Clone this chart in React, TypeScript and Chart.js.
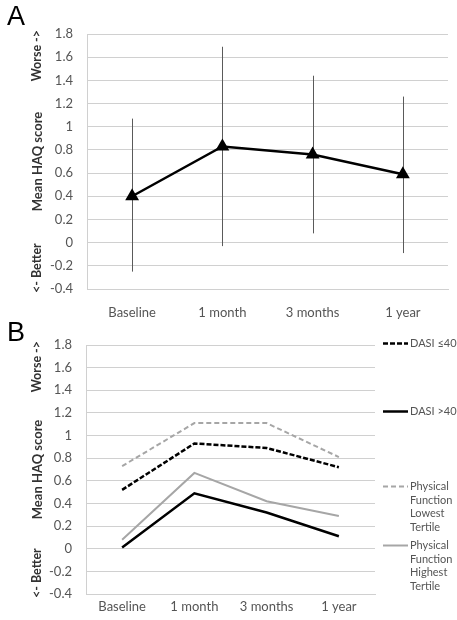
import React, { useEffect, useRef } from "react";
import { Chart, registerables } from "chart.js";

Chart.register(...registerables);

const categories = ["Baseline", "1 month", "3 months", "1 year"];

// Panel A
const meanHaq = [0.4, 0.83, 0.76, 0.59];
const errUpper = [1.07, 1.69, 1.44, 1.26];
const errLower = [-0.25, -0.03, 0.08, -0.09];

// Panel B
const dasiLow = [0.52, 0.93, 0.89, 0.72];
const dasiHigh = [0.01, 0.49, 0.32, 0.11];
const pfLowest = [0.73, 1.11, 1.11, 0.81];
const pfHighest = [0.08, 0.67, 0.42, 0.29];

const seriesLabelsB = [
  ["DASI \u226440"],
  ["DASI >40"],
  ["Physical", "Function", "Lowest", "Tertile"],
  ["Physical", "Function", "Highest", "Tertile"],
];

const yMin = -0.4;
const yMax = 1.8;
const yStep = 0.2;

const FONT = "Lato, 'Open Sans', 'DejaVu Sans', sans-serif";
const GRID = "#d0d0d0";
const TEXT = "#555555";
const BLACK = "#000000";
const GREY = "#a6a6a6";

const sideLabelsPlugin = {
  id: "sideLabels",
  afterDraw(chart: any) {
    const { ctx, chartArea } = chart;
    const x = 37;
    ctx.save();
    ctx.font = `bold 12.5px ${FONT}`;
    ctx.fillStyle = "#333333";
    ctx.textBaseline = "middle";
    ctx.save();
    ctx.translate(x, chartArea.top - 4);
    ctx.rotate(-Math.PI / 2);
    ctx.textAlign = "right";
    ctx.fillText("Worse ->", 0, 0);
    ctx.restore();
    ctx.save();
    ctx.translate(x, chartArea.bottom + 4);
    ctx.rotate(-Math.PI / 2);
    ctx.textAlign = "left";
    ctx.fillText("<- Better", 0, 0);
    ctx.restore();
    ctx.restore();
  },
};

const errorBarsPlugin = {
  id: "errorBars",
  beforeDatasetsDraw(chart: any, _args: any, opts: any) {
    if (!opts || !opts.upper) return;
    const { ctx } = chart;
    const xs = chart.scales.x;
    const ys = chart.scales.y;
    ctx.save();
    ctx.strokeStyle = "#5a5a5a";
    ctx.lineWidth = 1;
    opts.upper.forEach((u: number, i: number) => {
      const px = Math.round(xs.getPixelForValue(i)) + 0.5;
      ctx.beginPath();
      ctx.moveTo(px, ys.getPixelForValue(u));
      ctx.lineTo(px, ys.getPixelForValue(opts.lower[i]));
      ctx.stroke();
    });
    ctx.restore();
  },
};

const sideLegendPlugin = {
  id: "sideLegend",
  afterDraw(chart: any, _args: any, opts: any) {
    if (!opts || !opts.entries) return;
    const { ctx, chartArea } = chart;
    ctx.save();
    ctx.font = `11px ${FONT}`;
    ctx.fillStyle = TEXT;
    ctx.textBaseline = "middle";
    ctx.textAlign = "left";
    chart.data.datasets.forEach((ds: any, i: number) => {
      const y = Math.round(chartArea.top + opts.offsets[i]) + 0.5;
      const x0 = chartArea.right + 8;
      ctx.save();
      ctx.strokeStyle = ds.borderColor;
      ctx.lineWidth = ds.borderWidth;
      ctx.setLineDash(ds.borderDash || []);
      ctx.beginPath();
      ctx.moveTo(x0, y);
      ctx.lineTo(x0 + 25, y);
      ctx.stroke();
      ctx.restore();
      opts.entries[i].forEach((line: string, j: number) => {
        ctx.fillText(line, x0 + 27, y + j * 13.5);
      });
    });
    ctx.restore();
  },
};

function yScale(leftWidth: number) {
  return {
    min: yMin,
    max: yMax,
    ticks: {
      stepSize: yStep,
      padding: 14,
      color: TEXT,
      font: { family: FONT, size: 13 },
      callback: (v: any) => String(Number(Number(v).toFixed(1))),
    },
    grid: { color: GRID, lineWidth: 1, drawTicks: false },
    border: { display: true, color: GRID },
    title: {
      display: true,
      text: "Mean HAQ score",
      color: "#333333",
      font: { family: FONT, size: 13, weight: "bold" },
      padding: { top: 30, bottom: 0 },
    },
    afterFit: (s: any) => {
      s.width = leftWidth;
    },
  };
}

function xScale(height: number, pad: number) {
  return {
    offset: true,
    grid: { display: false, drawTicks: false },
    border: { display: true, color: GRID },
    ticks: {
      padding: pad,
      color: TEXT,
      font: { family: FONT, size: 13 },
      maxRotation: 0,
      autoSkip: false,
    },
    afterFit: (s: any) => {
      s.height = height;
    },
  };
}

export default function App() {
  const refA = useRef<HTMLCanvasElement | null>(null);
  const refB = useRef<HTMLCanvasElement | null>(null);

  useEffect(() => {
    const chartA = new Chart(refA.current as HTMLCanvasElement, {
      type: "line",
      data: {
        labels: categories,
        datasets: [
          {
            data: meanHaq,
            borderColor: BLACK,
            borderWidth: 2.5,
            pointStyle: "triangle",
            pointRadius: 5.5,
            pointBackgroundColor: BLACK,
            pointBorderColor: BLACK,
            tension: 0,
          },
        ],
      },
      options: {
        animation: false,
        responsive: false,
        maintainAspectRatio: false,
        devicePixelRatio: 1,
        layout: { padding: { top: 34, right: 9, left: 0, bottom: 0 } },
        plugins: {
          legend: { display: false },
          tooltip: { enabled: false },
          errorBars: { upper: errUpper, lower: errLower },
        } as any,
        scales: {
          x: xScale(36, 16) as any,
          y: yScale(87) as any,
        },
      },
      plugins: [errorBarsPlugin, sideLabelsPlugin],
    });

    const chartB = new Chart(refB.current as HTMLCanvasElement, {
      type: "line",
      data: {
        labels: categories,
        datasets: [
          {
            data: dasiLow,
            borderColor: BLACK,
            borderWidth: 2.5,
            borderDash: [5, 2],
            pointRadius: 0,
            tension: 0,
          },
          {
            data: dasiHigh,
            borderColor: BLACK,
            borderWidth: 2.5,
            pointRadius: 0,
            tension: 0,
          },
          {
            data: pfLowest,
            borderColor: GREY,
            borderWidth: 2,
            borderDash: [5, 3],
            pointRadius: 0,
            tension: 0,
          },
          {
            data: pfHighest,
            borderColor: GREY,
            borderWidth: 2,
            pointRadius: 0,
            tension: 0,
          },
        ],
      },
      options: {
        animation: false,
        responsive: false,
        maintainAspectRatio: false,
        devicePixelRatio: 1,
        layout: { padding: { top: 25, right: 82, left: 0, bottom: 0 } },
        plugins: {
          legend: { display: false },
          tooltip: { enabled: false },
          sideLegend: { entries: seriesLabelsB, offsets: [-2, 66, 141, 200] },
        } as any,
        scales: {
          x: xScale(26, 5) as any,
          y: yScale(86) as any,
        },
      },
      plugins: [sideLabelsPlugin, sideLegendPlugin],
    });

    return () => {
      chartA.destroy();
      chartB.destroy();
    };
  }, []);

  const letter: React.CSSProperties = {
    position: "absolute",
    left: 7,
    fontFamily: "'Liberation Sans', Arial, sans-serif",
    fontSize: 27,
    lineHeight: "27px",
    color: "#000",
  };

  return (
    <div
      style={{
        position: "fixed",
        left: 0,
        top: 0,
        width: 457,
        height: 620,
        background: "#fff",
        overflow: "hidden",
      }}
    >
      <canvas
        ref={refA}
        width={457}
        height={325}
        style={{ position: "absolute", left: 0, top: 0, display: "block" }}
      />
      <canvas
        ref={refB}
        width={457}
        height={300}
        style={{ position: "absolute", left: 0, top: 320, display: "block" }}
      />
      <div style={{ ...letter, top: 3 }}>A</div>
      <div style={{ ...letter, top: 319 }}>B</div>
    </div>
  );
}
